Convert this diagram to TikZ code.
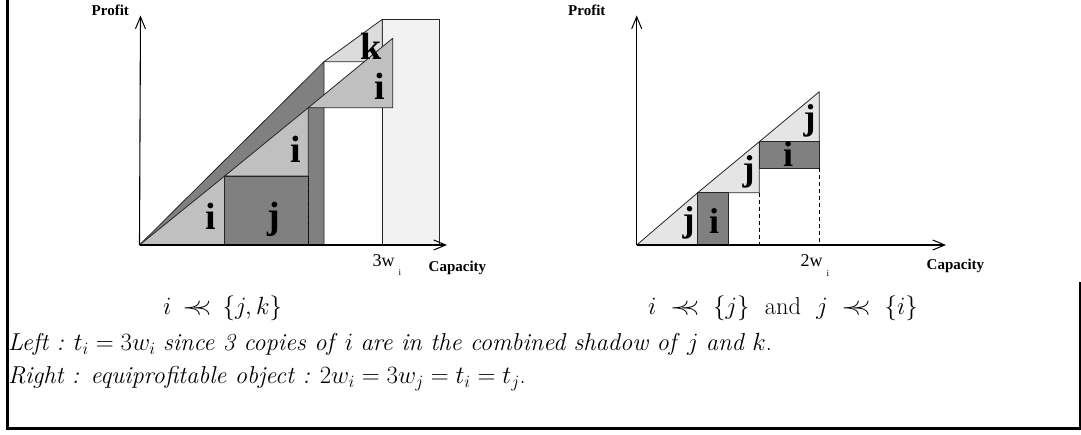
\documentclass[tikz,border=0pt]{standalone}
\usepackage{fontspec}
\newfontfamily\tms{Liberation Serif}
\usetikzlibrary{arrows.meta}
\definecolor{lg}{HTML}{C0C0C0}
\definecolor{dg}{HTML}{808080}
\definecolor{kg}{HTML}{DCDCDC}
\definecolor{vg}{HTML}{F2F2F2}
\definecolor{jg}{HTML}{E5E5E5}
\newcommand{\dprec}{\mskip3mu\mathrel{\prec\mkern-7mu\prec}\mskip3mu}
\newcommand{\dprecw}{\mskip5mu\mathrel{\prec\mkern-7mu\prec}\mskip5mu}
\begin{document}
\begin{tikzpicture}[x=1pt,y=-1pt,
  piece/.style={draw=black!85,line width=0.8pt,line join=round},
  axis/.style={line width=1.1pt,-{Straight Barb[length=12pt,width=10pt,line width=1pt]}},
  lab/.style={font=\tms\bfseries\fontsize{38}{38}\selectfont,inner sep=0pt,anchor=base},
  labr/.style={font=\tms\bfseries\fontsize{36}{36}\selectfont,inner sep=0pt,anchor=base},
  axlab/.style={font=\tms\bfseries\fontsize{15}{15}\selectfont,inner sep=0pt,anchor=base west},
  tick/.style={font=\tms\fontsize{18}{18}\selectfont,inner sep=0pt,anchor=base west},
  sub/.style={font=\tms\fontsize{9}{9}\selectfont,inner sep=0pt,anchor=north west},
  txt/.style={font=\fontsize{24.4}{28}\selectfont,inner sep=0pt,anchor=base west}]
\useasboundingbox (0,0) rectangle (1081,435);
% frame
\draw[line width=3pt] (7.5,0) -- (7.5,428.5) -- (1081,428.5);
\draw[line width=2pt] (1079.5,282) -- (1079.5,428.5);

% ---------- left diagram ----------
\coordinate (O) at (139.5,245);
\draw[piece,fill=vg] (382.3,19.3) rectangle (439,245);
\draw[piece,fill=dg] (O) -- (324,61.7) -- (324,245) -- cycle;
\draw[piece,fill=kg] (324,61.7) -- (382.3,19.3) -- (382.3,61.7) -- cycle;
\draw[piece,fill=lg] (O) -- (224.7,176) -- (224.7,245) -- cycle;
\draw[piece,fill=dg] (224.7,176) rectangle (308.3,245);
\draw[piece,fill=lg] (224.7,176) -- (308.3,107.7) -- (308.3,176) -- cycle;
\draw[piece,fill=lg] (308.3,107.7) -- (392.7,38.3) -- (392.7,107.7) -- cycle;
\draw[line width=0.9pt,densely dotted] (308.3,176) -- (308.3,245);
\draw[axis] (O) -- (140.5,15.5);
\draw[axis] (O) -- (447,245);
\node[lab] (l1) at (210.5,230) {i};
\node[lab] (l2) at (273.5,229) {j};
\node[lab] (l3) at (295.5,163) {i};
\node[lab] (l4) at (379.5,100) {i};
\node[lab] (l5) at (371.5,59.3) {k};
\node[axlab] (pl) at (91.5,15.5) {Profit};
\node[axlab] (cl) at (428.5,272) {Capacity};
\node[tick] (t3) at (372.5,267) {3w};
\node[sub] (s3) at (398.5,269.5) {i};

% ---------- right diagram ----------
\coordinate (P) at (636.7,245);
\draw[piece,fill=jg] (P) -- (697.7,192.7) -- (697.7,245) -- cycle;
\draw[piece,fill=jg] (697.7,192.7) -- (759.3,141.7) -- (759.3,192.7) -- (697.7,192.7) -- cycle;
\draw[piece,fill=jg] (759.3,141.7) -- (819.3,91.7) -- (819.3,141.7) -- cycle;
\draw[piece,fill=dg] (697.7,192.7) rectangle (728.3,245);
\draw[piece,fill=dg] (759.3,141.7) rectangle (819.3,168.3);
\draw[line width=0.9pt,dash pattern=on 4pt off 3pt] (759.3,192.7) -- (759.3,245);
\draw[line width=0.9pt,dash pattern=on 4pt off 3pt] (819.3,168.3) -- (819.3,245);
\draw[axis] (P) -- (636.7,15.5);
\draw[axis] (P) -- (946,245);
\node[labr] (r1) at (688.5,232) {j};
\node[labr] (r2) at (714,233.3) {i};
\node[labr] (r3) at (748.5,181) {j};
\node[labr] (r4) at (788,166.7) {i};
\node[labr] (r5) at (809.5,130) {j};
\node[axlab] (pr) at (568,16) {Profit};
\node[axlab] (cr) at (926.5,270) {Capacity};
\node[tick] (t2) at (800.5,267) {2w};
\node[sub] (s2) at (826.5,270.5) {i};

% ---------- text ----------
\node[txt] (m1) at (163,315) {$i \dprec \{j,k\}$};
\node[txt] (m2) at (648,315) {$i \dprecw \{j\}$\hspace{8pt} and\hspace{8pt} $j \dprecw \{i\}$};
\node[txt] (tl) at (8,350.5) {\textit{Left :} $t_i=3w_i$ \textit{since 3 copies of} $i$ \textit{are in the combined shadow of} $j$ \textit{and} $k$.};
\node[txt] (tr) at (8,383.5) {\textit{Right : equiprofitable object :} $2w_i=3w_j=t_i=t_j$.};
\end{tikzpicture}
\end{document}
